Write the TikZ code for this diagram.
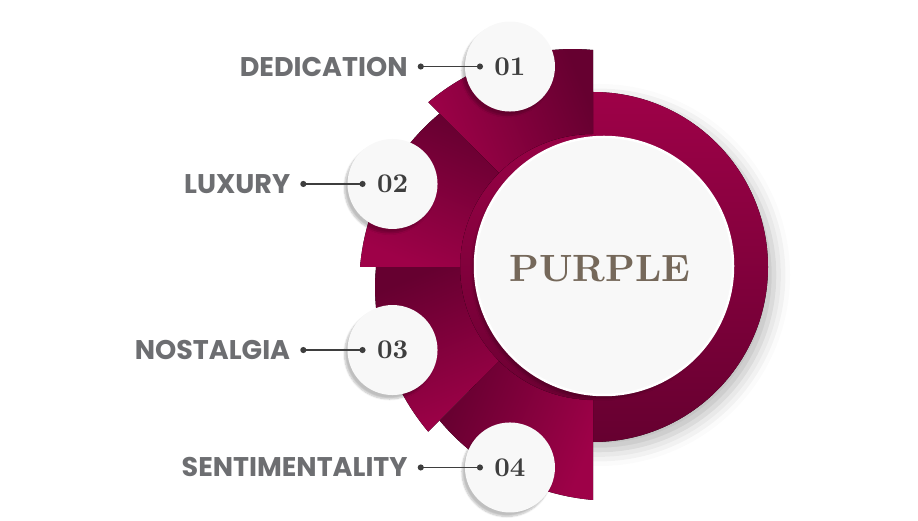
\documentclass[tikz,border=0pt]{standalone}
\usepackage{fontspec}
\newfontfamily\lblfont{Poppins}
\newfontfamily\numfont{lmroman10-bold}[Extension=.otf]
\usetikzlibrary{positioning,calc,arrows.meta,shadows.blur}

\definecolor{crimlight}{HTML}{9E0148}
\definecolor{crimdark}{HTML}{660030}
\definecolor{labelgray}{HTML}{6D6E71}
\definecolor{numgray}{HTML}{3E3E3E}
\definecolor{taupe}{HTML}{75685A}
\definecolor{paper}{HTML}{F8F8F8}

\def\bigring{(C) circle (175)}

\tikzset{
  numdot/.style={circle, fill=paper, minimum size=90pt, inner sep=0pt, text=numgray,
    font=\numfont\fontsize{27}{27}\selectfont,
    blur shadow={shadow xshift=-3pt, shadow yshift=-4pt, shadow blur steps=8, shadow opacity=25}},
  lbl/.style={text=labelgray, font=\lblfont\fontsize{27}{27}\selectfont\bfseries, inner sep=0pt},
  lead/.style={draw=numgray, line width=1.8pt, {Circle[length=6pt]}-{Circle[length=6pt]}}
}

\begin{document}
\begin{tikzpicture}[x=1pt,y=1pt]
  \useasboundingbox (0,0) rectangle (918,521);
  \coordinate (C) at (593,254);
  \coordinate (W) at (604,255);

  % ring behind everything
  \fill[blur shadow={shadow xshift=6pt, shadow yshift=-8pt, shadow blur radius=16pt, shadow opacity=28},
        top color=crimlight, bottom color=crimdark] \bigring;

  % left pieces, lowest first
  \foreach \s in {225,180,135,90}{
    \pgfmathsetmacro\ang{\s+22.5}
    \fill[top color=crimlight, bottom color=crimdark, shading angle=\ang, shift={(C)}]
      (\s:133) -- plot[domain=\s:\s+45, samples=30] (\x:{217+16*(\x-\s)/45})
      -- (\s+45:133) arc[start angle=\s+45, end angle=\s, radius=133] -- cycle;
  }

  % centre disc
  \node[circle, fill=paper, draw=white, line width=2.5pt, minimum size=258pt,
        blur shadow={shadow xshift=-3pt, shadow yshift=-4pt, shadow opacity=20}] (core) at (W) {};
  \node[text=taupe, font=\numfont\fontsize{38}{38}\selectfont] (title) at (600,252) {PURPLE};

  \node[numdot] (n1) at ($(C)+(112.5:217)$) {01};
  \node[numdot] (n2) at ($(C)+(157.5:217)$) {02};
  \node[numdot] (n3) at ($(C)+(202.5:217)$) {03};
  \node[numdot] (n4) at ($(C)+(247.5:217)$) {04};

  \node[lbl, left=57pt of n1] (t1) {DEDICATION};
  \node[lbl, left=57pt of n2] (t2) {LUXURY};
  \node[lbl, left=57pt of n3] (t3) {NOSTALGIA};
  \node[lbl, left=57pt of n4] (t4) {SENTIMENTALITY};

  \draw[lead] ([xshift=10pt]t1.east) -- ([xshift=-27pt]n1.center);
  \draw[lead] ([xshift=10pt]t2.east) -- ([xshift=-27pt]n2.center);
  \draw[lead] ([xshift=10pt]t3.east) -- ([xshift=-27pt]n3.center);
  \draw[lead] ([xshift=10pt]t4.east) -- ([xshift=-27pt]n4.center);
\end{tikzpicture}
\end{document}
